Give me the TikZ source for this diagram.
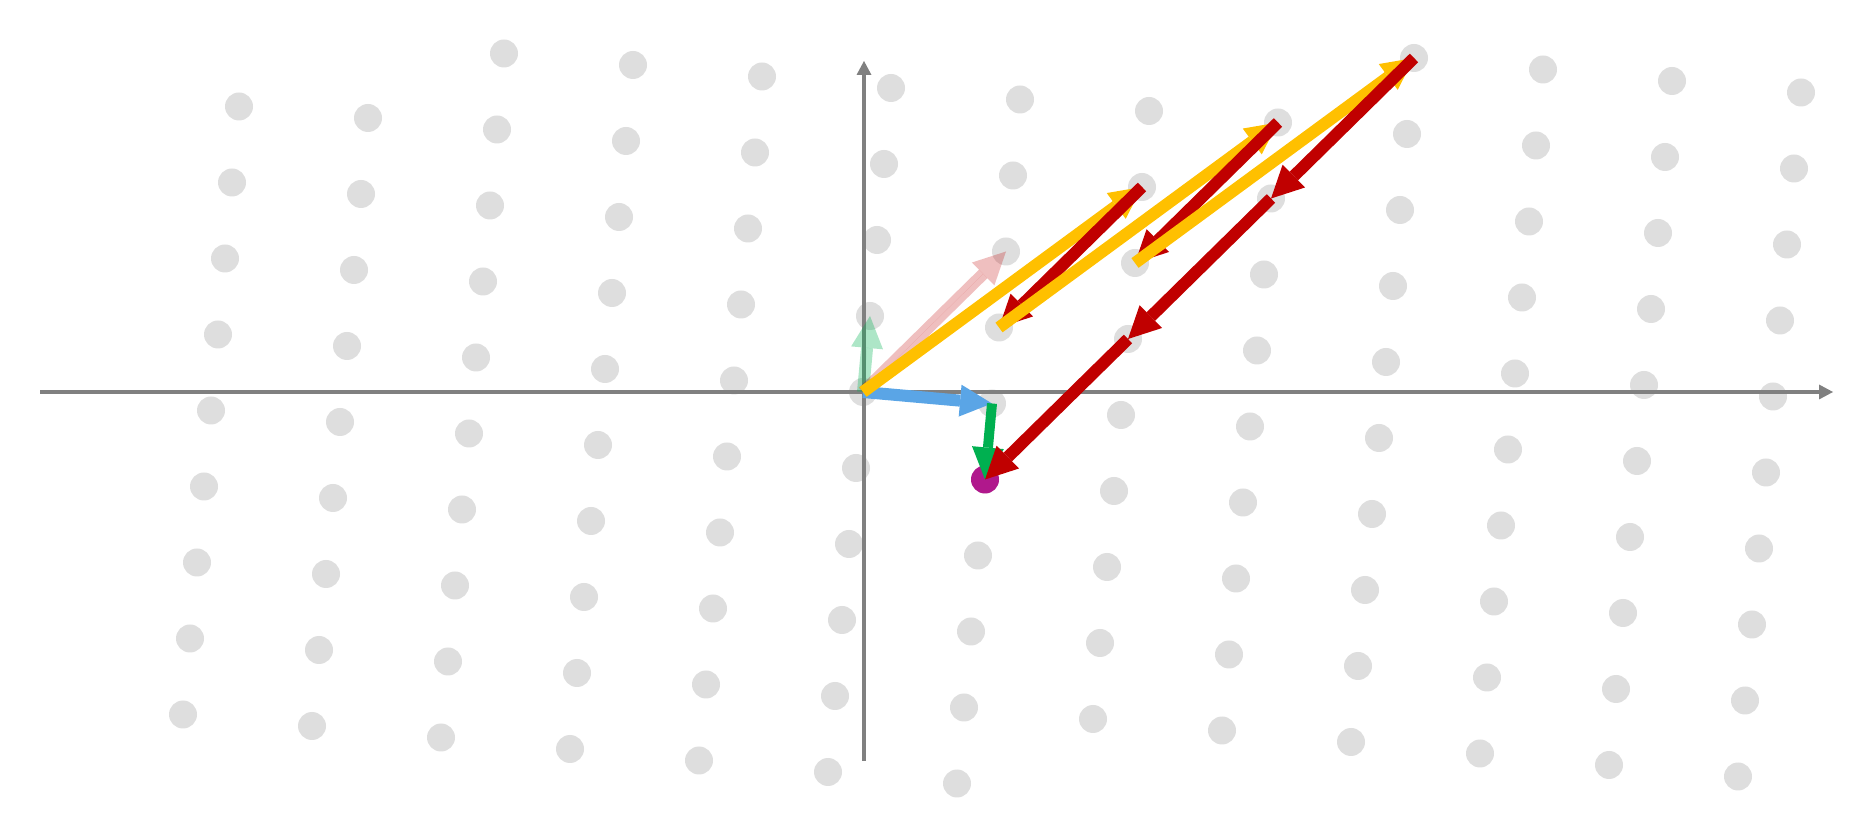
\documentclass[tikz,border=0pt]{standalone}
\usetikzlibrary{arrows.meta}
\definecolor{dotc}{RGB}{222,222,222}
\definecolor{axisc}{RGB}{128,128,128}
\definecolor{vred}{RGB}{192,0,0}
\definecolor{vyel}{RGB}{255,192,0}
\definecolor{vblue}{RGB}{90,165,230}
\definecolor{vgreen}{RGB}{0,176,80}
\definecolor{vpurp}{RGB}{176,24,140}
\tikzset{
  axisline/.style={draw=axisc, line width=2.4pt, -{Triangle[length=7pt,width=7.5pt,line width=0pt]}},
  vec/.style={line width=6pt, -{Triangle[length=16pt,width=16pt,line width=0pt]}},
  yvec/.style={vec, draw=vyel, fill=vyel},
  rvec/.style={vec, draw=vred, fill=vred},
}
\begin{document}
\begin{tikzpicture}[x=0.5pt,y=-0.5pt]
\useasboundingbox (0,0) rectangle (1874,838);
% lattice
\foreach \i in {-5,...,7}{
  \foreach \j in {-6,...,6}{
    \pgfmathsetmacro{\px}{863+129*\i+7*\j}
    \pgfmathsetmacro{\py}{392+11.5*\i-76*\j}
    \coordinate (p\i x\j) at (\px,\py);
    \ifdim\py pt>50pt\relax
      \ifdim\py pt<787pt\relax
        \fill[dotc] (p\i x\j) circle[radius=7pt];
      \fi
    \fi
  }
}
\fill[vpurp] (p1x-1) circle[radius=7pt];
% axes
\coordinate (xl) at (40,392);
\coordinate (xr) at (1833,392);
\coordinate (yb) at (864,761);
\coordinate (yt) at (864,61);
\draw[axisline] (xl) -- (xr);
\draw[axisline] (yb) -- (yt);
% faint vectors
\draw[vec, draw=vgreen, fill=vgreen, opacity=0.32] (p0x0) -- (p0x1);
\draw[vec, draw=vred, fill=vred, opacity=0.25] (p0x0) -- (p1x2);
% basis path
\draw[vec, draw=vblue, fill=vblue] (p0x0) -- (p1x0);
\draw[vec, draw=vgreen, fill=vgreen, line width=5pt] (p1x0) -- (p1x-1);
% chain
\draw[yvec] (p0x0) -- (p2x3);
\draw[rvec] (p2x3) -- (p1x1);
\draw[yvec] (p1x1) -- (p3x4);
\draw[rvec] (p3x4) -- (p2x2);
\draw[yvec] (p2x2) -- (p4x5);
\draw[rvec] (p4x5) -- (p3x3);
\draw[rvec] (p3x3) -- (p2x1);
\draw[rvec] (p2x1) -- (p1x-1);
\end{tikzpicture}
\end{document}
